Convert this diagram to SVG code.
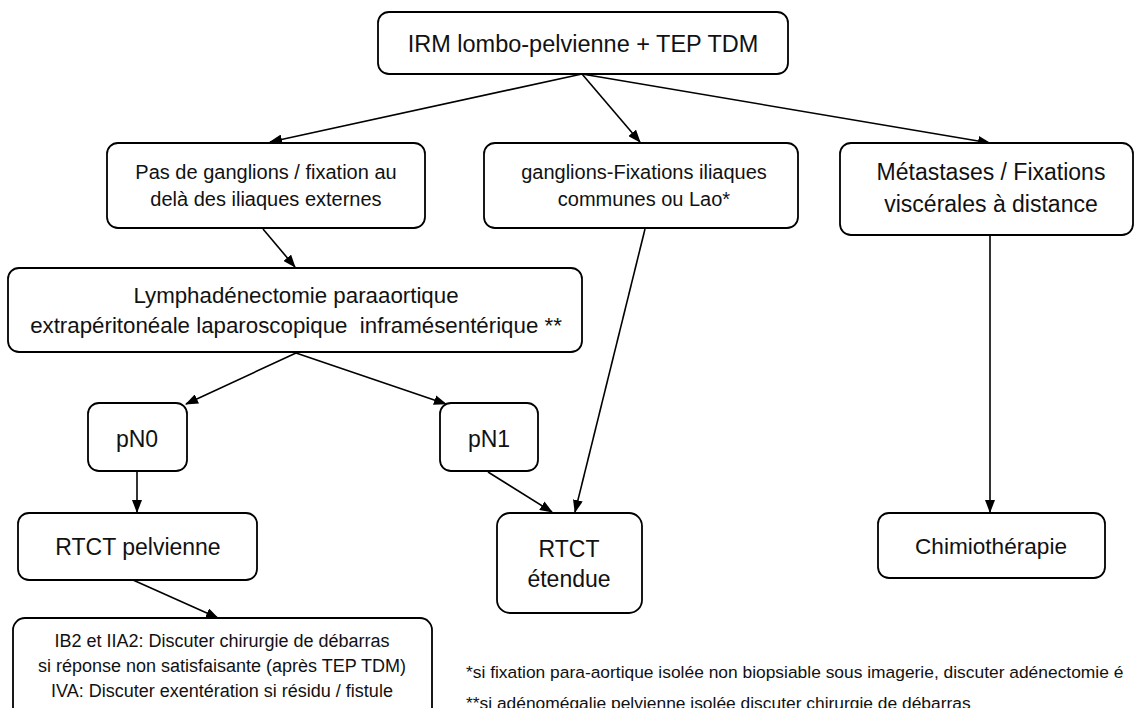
<svg xmlns="http://www.w3.org/2000/svg" width="1135" height="708" viewBox="0 0 1135 708">
<style>
.box{fill:#fff;stroke:#000;stroke-width:1.8}
.t{font-family:"Liberation Sans",Arial,sans-serif;fill:#111;text-anchor:middle}
.c{stroke:#000;stroke-width:1.6;fill:none;marker-end:url(#ah)}
.fn{font-family:"Liberation Sans",Arial,sans-serif;fill:#111;font-size:17.4px}
</style>
<defs>
<marker id="ah" markerWidth="13" markerHeight="10" refX="12" refY="5" orient="auto" markerUnits="userSpaceOnUse">
<path d="M0,0 L13,5 L0,10 Z" fill="#000"/>
</marker>
</defs>
<rect width="1135" height="708" fill="#fff"/>
<g id="connectors">
<line class="c" x1="582" y1="74" x2="270" y2="142"/>
<line class="c" x1="582" y1="74" x2="640" y2="142"/>
<line class="c" x1="582" y1="74" x2="990" y2="143"/>
<line class="c" x1="263" y1="229" x2="295" y2="267"/>
<line class="c" x1="296" y1="353" x2="186" y2="404"/>
<line class="c" x1="296" y1="353" x2="446" y2="404"/>
<line class="c" x1="137" y1="472" x2="137" y2="512"/>
<line class="c" x1="488" y1="472" x2="552" y2="512"/>
<line class="c" x1="645" y1="229" x2="575" y2="512"/>
<line class="c" x1="990" y1="236" x2="990" y2="512"/>
<line class="c" x1="133" y1="580" x2="218" y2="618"/>
</g>
<g id="n_irm">
<rect class="box" x="378" y="12" width="410" height="62" rx="11"/>
<text class="t" x="583" y="52" font-size="23.5">IRM lombo-pelvienne + TEP TDM</text>
</g>
<g id="n_pas">
<rect class="box" x="107" y="143" width="318" height="85" rx="11"/>
<text class="t" x="266" y="179" font-size="20">Pas de ganglions / fixation au</text>
<text class="t" x="266" y="206" font-size="20">delà des iliaques externes</text>
</g>
<g id="n_gang">
<rect class="box" x="484" y="143" width="314" height="85" rx="11"/>
<text class="t" x="644" y="179" font-size="20">ganglions-Fixations iliaques</text>
<text class="t" x="644" y="206" font-size="20">communes ou Lao*</text>
</g>
<g id="n_meta">
<rect class="box" x="840" y="143" width="293" height="92" rx="11"/>
<text class="t" x="991" y="180" font-size="23">Métastases / Fixations</text>
<text class="t" x="991" y="212" font-size="23">viscérales à distance</text>
</g>
<g id="n_lymph">
<rect class="box" x="8" y="268" width="574" height="84" rx="11"/>
<text class="t" x="296" y="303" font-size="22.3">Lymphadénectomie paraaortique</text>
<text class="t" x="296" y="333" font-size="22.3" xml:space="preserve">extrapéritonéale laparoscopique  inframésentérique **</text>
</g>
<g id="n_pn0">
<rect class="box" x="88" y="403" width="99" height="68" rx="11"/>
<text class="t" x="137" y="447" font-size="23">pN0</text>
</g>
<g id="n_pn1">
<rect class="box" x="440" y="403" width="98" height="68" rx="11"/>
<text class="t" x="489" y="447" font-size="23">pN1</text>
</g>
<g id="n_rtctp">
<rect class="box" x="18" y="513" width="239" height="67" rx="11"/>
<text class="t" x="138" y="555" font-size="23">RTCT pelvienne</text>
</g>
<g id="n_rtcte">
<rect class="box" x="497" y="513" width="145" height="100" rx="13"/>
<text class="t" x="569" y="557" font-size="23">RTCT</text>
<text class="t" x="569" y="587" font-size="23">étendue</text>
</g>
<g id="n_chimio">
<rect class="box" x="878" y="513" width="227" height="65" rx="11"/>
<text class="t" x="991" y="554" font-size="22.6">Chimiothérapie</text>
</g>
<g id="n_ib2">
<rect class="box" x="13" y="618" width="419" height="102" rx="12"/>
<text class="t" x="222" y="647" font-size="18">IB2 et IIA2: Discuter chirurgie de débarras</text>
<text class="t" x="222" y="672" font-size="18">si réponse non satisfaisante (après TEP TDM)</text>
<text class="t" x="222" y="697" font-size="18">IVA: Discuter exentération si résidu / fistule</text>
</g>
<g id="footnotes">
<text class="fn" x="466" y="678">*si fixation para-aortique isolée non biopsiable sous imagerie, discuter adénectomie é</text>
<text class="fn" x="466" y="709">**si adénomégalie pelvienne isolée discuter chirurgie de débarras</text>
</g>
</svg>
